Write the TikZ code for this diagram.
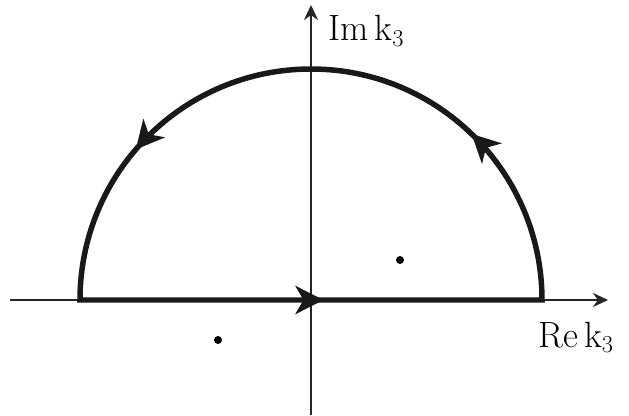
\documentclass[tikz,border=0pt]{standalone}
\usepackage{amsmath,amssymb}
\usepackage{tikz}
\usetikzlibrary{arrows.meta,decorations.markings}

\begin{document}
\begin{tikzpicture}[
  x=0.025cm,y=0.025cm,
  >=Stealth,
  axis/.style={->,line width=1.4pt,black!85,>={Stealth[length=15*0.025cm,width=14*0.025cm]}},
  contour/.style={line width=3.9pt,black!90,line join=miter,
    postaction=decorate,decoration={markings,
      mark=at position 0.205 with {\arrow{Stealth[length=28*0.025cm,width=28*0.025cm,inset=8*0.025cm]}},
      mark=at position 0.545 with {\arrow{Stealth[length=28*0.025cm,width=28*0.025cm,inset=8*0.025cm]}},
      mark=at position 0.862 with {\arrow{Stealth[length=28*0.025cm,width=28*0.025cm,inset=8*0.025cm]}}}},
  pole/.style={circle,fill=black,inner sep=0pt,minimum size=8*0.025cm},
  lab/.style={font=\fontsize{26}{30}\selectfont,inner sep=0pt,anchor=base west}
]
  \useasboundingbox (-311,-115) rectangle (318,300);

  % axes
  \coordinate (xl) at (-301,0);
  \coordinate (xr) at (297,0);
  \coordinate (yb) at (0,-115);
  \coordinate (yt) at (0,295);
  \draw[axis] (xl) -- (xr);
  \draw[axis] (yb) -- (yt);

  % closed contour
  \coordinate (L) at (-231,0);
  \coordinate (R) at (231,0);
  \draw[contour] (L) -- (R) arc[start angle=0,end angle=180,radius=231] -- cycle;

  % poles
  \node[pole] (p1) at (89,40) {};
  \node[pole] (p2) at (-93,-40) {};

  % labels
  \node[lab] (im) at (17,259) {Im\,k$_3$};
  \node[lab] (re) at (227,-47) {Re\,k$_3$};
\end{tikzpicture}
\end{document}
